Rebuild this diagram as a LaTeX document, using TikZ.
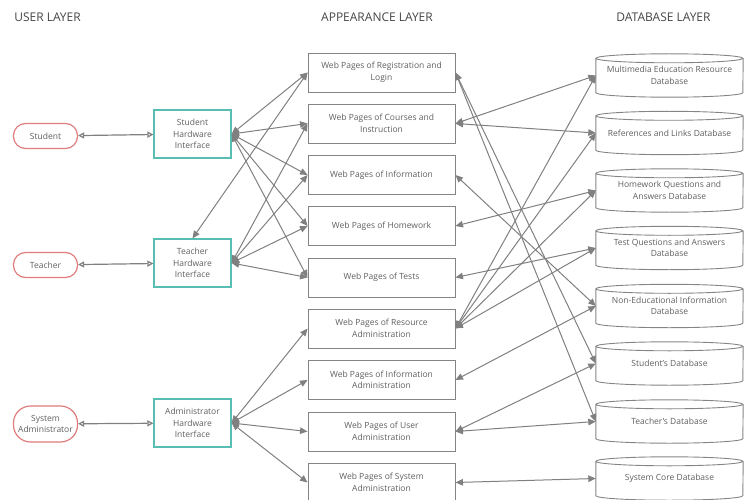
\documentclass[tikz,border=0pt]{standalone}
\usepackage{fontspec}
\setmainfont{Open Sans}
\usetikzlibrary{arrows.meta}

\definecolor{linegray}{RGB}{128,128,128}
\definecolor{boxgray}{RGB}{132,132,132}
\definecolor{txtgray}{RGB}{95,95,95}
\definecolor{headgray}{RGB}{70,70,70}
\definecolor{hwteal}{RGB}{88,190,180}
\definecolor{userred}{RGB}{224,124,124}

\begin{document}
\begin{tikzpicture}[x=1pt, y=1pt,
	layer/.style={text=headgray, font=\fontsize{12}{14}\selectfont},
	boxtext/.style={align=center, inner sep=0pt, text=txtgray, font=\fontsize{8.5}{11.5}\selectfont},
	userbox/.style={boxtext, draw=userred, line width=1.2pt, rounded corners=12pt, minimum width=64pt, minimum height=25pt},
	hwbox/.style={boxtext, draw=hwteal, line width=1.2pt, minimum width=77pt, minimum height=48pt},
	pagebox/.style={boxtext, draw=boxgray, line width=0.9pt, minimum width=147pt, minimum height=39pt},
	dbnode/.style={boxtext, minimum width=147pt, minimum height=43pt},
	dbline/.style={draw=boxgray, line width=0.9pt},
	link/.style={draw=linegray, line width=1pt, {Triangle[length=7.5pt,width=6.5pt]}-{Triangle[length=7.5pt,width=6.5pt]}},
	userlink/.style={draw=linegray, line width=1.2pt, {Triangle[open,length=6pt,width=6pt]}-{Triangle[open,length=6pt,width=6pt]}}
	]

	\useasboundingbox (0,0) rectangle (752,-500);

	\node[layer] (hdUser) at (47.5,-17) {USER LAYER};
	\node[layer] (hdPage) at (377,-17) {APPEARANCE LAYER};
	\node[layer] (hdDb) at (663.5,-17) {DATABASE LAYER};

	\node[userbox] (student) at (45.5,-136) {Student};
	\node[userbox] (teacher) at (45.5,-265) {Teacher};
	\node[userbox, minimum height=36pt, rounded corners=17pt] (sysadmin) at (45.5,-424) {System\\Administrator};

	\node[hwbox] (hwStudent) at (192.5,-134) {Student\\Hardware\\Interface};
	\node[hwbox] (hwTeacher) at (192.5,-263) {Teacher\\Hardware\\Interface};
	\node[hwbox] (hwAdmin) at (192.5,-423) {Administrator\\Hardware\\Interface};

	\node[pagebox] (pReg) at (381.5,-72.5) {Web Pages of Registration and\\Login};
	\node[pagebox] (pCourse) at (381.5,-123.5) {Web Pages of Courses and\\Instruction};
	\node[pagebox] (pInfo) at (381.5,-175) {Web Pages of Information};
	\node[pagebox] (pHome) at (381.5,-226) {Web Pages of Homework};
	\node[pagebox] (pTest) at (381.5,-277.5) {Web Pages of Tests};
	\node[pagebox] (pRes) at (381.5,-328.5) {Web Pages of Resource\\Administration};
	\node[pagebox] (pInfoAdm) at (381.5,-380) {Web Pages of Information\\Administration};
	\node[pagebox] (pUser) at (381.5,-431.5) {Web Pages of User\\Administration};
	\node[pagebox] (pSys) at (381.5,-482.5) {Web Pages of System\\Administration};

	\node[dbnode] (dbMedia) at (669.5,-75.5) {Multimedia Education Resource\\Database};
	\node[dbnode] (dbRef) at (669.5,-133) {References and Links Database};
	\node[dbnode] (dbHomeQ) at (669.5,-190.5) {Homework Questions and\\Answers Database};
	\node[dbnode] (dbTestQ) at (669.5,-248) {Test Questions and Answers\\Database};
	\node[dbnode] (dbNonEd) at (669.5,-306) {Non-Educational Information\\Database};
	\node[dbnode] (dbStu) at (669.5,-363.5) {Student's Database};
	\node[dbnode] (dbTea) at (669.5,-421.5) {Teacher's Database};
	\node[dbnode] (dbCore) at (669.5,-478.5) {System Core Database};

	\foreach \db in {dbMedia,dbRef,dbHomeQ,dbTestQ,dbNonEd,dbStu,dbTea,dbCore}
		\draw[dbline] ([yshift=-4.5pt]\db.north west)
			arc[start angle=180, end angle=360, x radius=73.5pt, y radius=4.5pt]
			arc[start angle=0, end angle=180, x radius=73.5pt, y radius=4.5pt]
			-- ([yshift=4.5pt]\db.south west)
			arc[start angle=180, end angle=360, x radius=73.5pt, y radius=4.5pt]
			-- ([yshift=-4.5pt]\db.north east);

	\draw[userlink] (student) -- (hwStudent);
	\draw[userlink] (teacher) -- (hwTeacher);
	\draw[userlink] (sysadmin) -- (hwAdmin);

	\draw[link] (hwStudent.east) -- (pReg.west);
	\draw[link] (hwStudent.east) -- (pCourse.west);
	\draw[link] (hwStudent.east) -- (pInfo.west);
	\draw[link] (hwStudent.east) -- (pHome.west);
	\draw[link] (hwStudent.east) -- (pTest.west);
	\draw[link] (hwTeacher.north) -- (pReg.west);
	\draw[link] (hwTeacher.east) -- (pCourse.west);
	\draw[link] (hwTeacher.east) -- (pInfo.west);
	\draw[link] (hwTeacher.east) -- (pHome.west);
	\draw[link] (hwTeacher.east) -- (pTest.west);
	\draw[link] (hwAdmin.east) -- (pRes.west);
	\draw[link] (hwAdmin.east) -- (pInfoAdm.west);
	\draw[link] (hwAdmin.east) -- (pUser.west);
	\draw[link] (hwAdmin.east) -- (pSys.west);

	\draw[link] (pReg.east) -- (dbStu.west);
	\draw[link] (pReg.east) -- (dbTea.west);
	\draw[link] (pCourse.east) -- (dbMedia.west);
	\draw[link] (pCourse.east) -- (dbRef.west);
	\draw[link] (pInfo.east) -- (dbNonEd.west);
	\draw[link] (pHome.east) -- (dbHomeQ.west);
	\draw[link] (pTest.east) -- (dbTestQ.west);
	\draw[link] (pRes.east) -- (dbMedia.west);
	\draw[link] (pRes.east) -- (dbRef.west);
	\draw[link] (pRes.east) -- (dbHomeQ.west);
	\draw[link] (pRes.east) -- (dbTestQ.west);
	\draw[link] (pInfoAdm.east) -- (dbNonEd.west);
	\draw[link] (pUser.east) -- (dbStu.west);
	\draw[link] (pUser.east) -- (dbTea.west);
	\draw[link] (pSys.east) -- (dbCore.west);

\end{tikzpicture}
\end{document}
